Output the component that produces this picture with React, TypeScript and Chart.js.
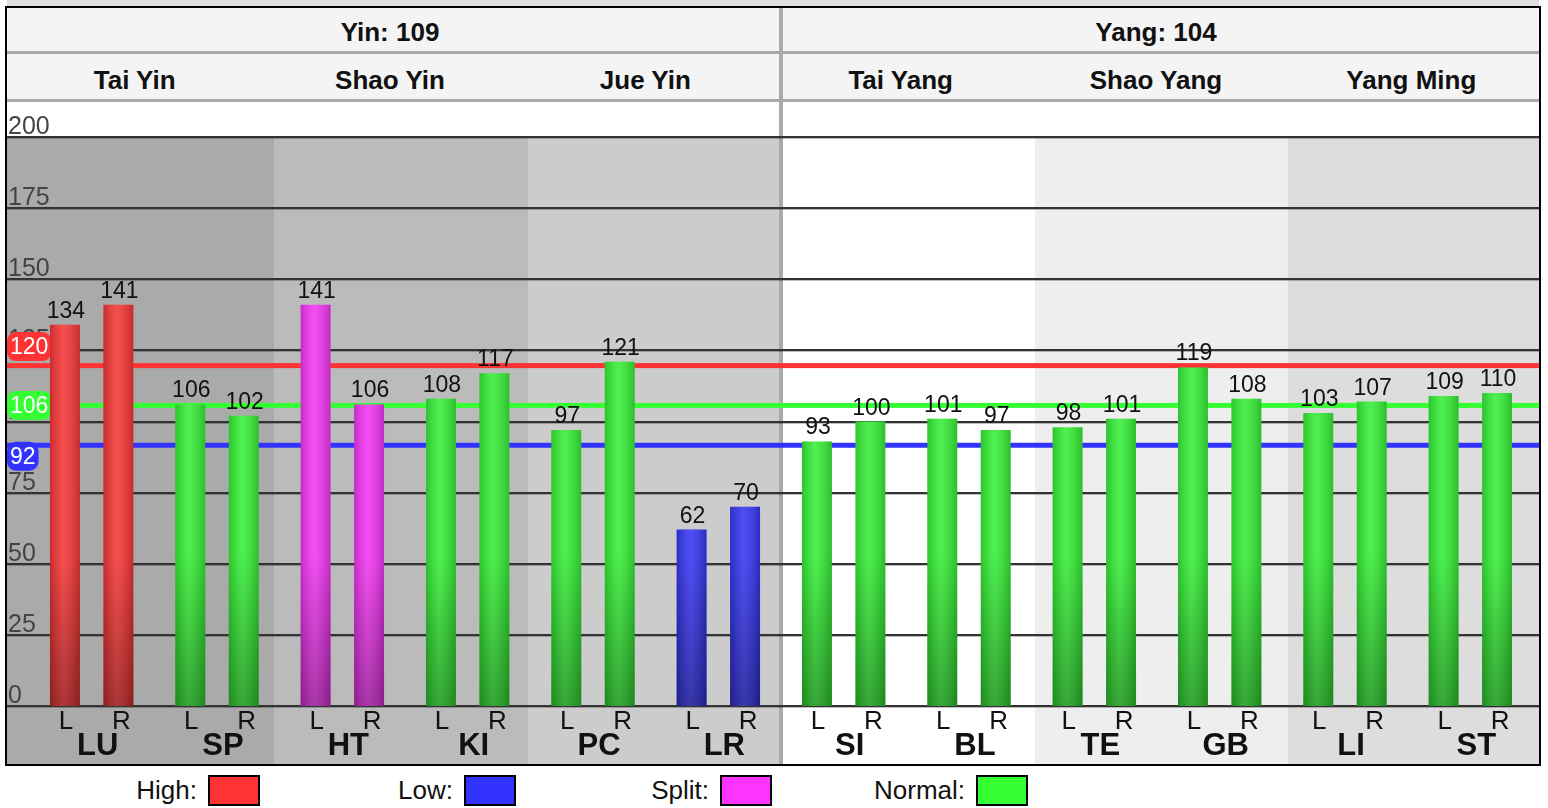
import React, { useEffect, useRef } from 'react';
import { Chart, registerables } from 'chart.js';

Chart.register(...registerables);

// ---------- data ----------
const organs = ['LU', 'SP', 'HT', 'KI', 'PC', 'LR', 'SI', 'BL', 'TE', 'GB', 'LI', 'ST'];
const leftValues = [134, 106, 141, 108, 97, 62, 93, 101, 98, 119, 103, 109];
const rightValues = [141, 102, 106, 117, 121, 70, 100, 97, 101, 108, 107, 110];
const leftStatus = ['high', 'normal', 'split', 'normal', 'normal', 'low', 'normal', 'normal', 'normal', 'normal', 'normal', 'normal'];
const rightStatus = ['high', 'normal', 'split', 'normal', 'normal', 'low', 'normal', 'normal', 'normal', 'normal', 'normal', 'normal'];
const sideLabels = ['L', 'R'];
const yMin = 0;
const yMax = 200;
const yStep = 25;
const refValues = [120, 106, 92];
const refKinds = ['high', 'normal', 'low'];
const halfTitles = ['Yin: 109', 'Yang: 104'];
const channelTitles = ['Tai Yin', 'Shao Yin', 'Jue Yin', 'Tai Yang', 'Shao Yang', 'Yang Ming'];
const legendLabels = ['High:', 'Low:', 'Split:', 'Normal:'];
const legendKinds = ['high', 'low', 'split', 'normal'];

// ---------- styles ----------
const FONT = '"Liberation Sans", Arial, Helvetica, sans-serif';
const kindColors: Record<string, string> = {
  high: '#ff3333',
  low: '#3333ff',
  split: '#ff33ff',
  normal: '#33ff33',
};
const barColors: Record<string, string> = {
  high: '#f53636',
  low: '#3636f2',
  split: '#f236f2',
  normal: '#36ee36',
};
const badgeOffsets = [-19, 0, 11];
const columnEdges = [
  [7, 274],
  [274, 528],
  [528, 779],
  [783, 1035],
  [1035, 1288],
  [1288, 1539],
];
const columnBgs = ['#aaaaaa', '#bbbbbb', '#cccccc', '#ffffff', '#eeeeee', '#dddddd'];

const CANVAS_LEFT = 7;
const CANVAS_TOP = 102;
const CANVAS_W = 1532;
const CANVAS_H = 662;

const decorPlugin = {
  id: 'decor',
  beforeDatasetsDraw(chart: any) {
    const ctx = chart.ctx as CanvasRenderingContext2D;
    const y = chart.scales.y;
    const W = chart.width;
    ctx.save();
    const ticks = (y.ticks || []) as { value: number }[];
    ticks.forEach((t) => {
      const py = Math.round(y.getPixelForValue(t.value));
      ctx.fillStyle = '#333333';
      ctx.fillRect(0, py - 1, W, 2);
      ctx.fillStyle = 'rgba(0,0,0,0.25)';
      ctx.fillRect(0, py + 1, W, 1);
    });
    ctx.font = `25px ${FONT}`;
    ctx.fillStyle = '#444444';
    ctx.textAlign = 'left';
    ctx.textBaseline = 'alphabetic';
    ticks.forEach((t) => {
      const py = Math.round(y.getPixelForValue(t.value));
      ctx.fillText(String(t.value), 1, py - 3);
    });
    // reference lines
    refValues.forEach((v, i) => {
      const py = y.getPixelForValue(v) + 1;
      ctx.fillStyle = kindColors[refKinds[i]];
      ctx.fillRect(0, py - 2.5, W, 5);
    });
    // badges
    ctx.font = `23px ${FONT}`;
    refValues.forEach((v, i) => {
      const py = y.getPixelForValue(v) + 1 + badgeOffsets[i];
      const txt = String(v);
      const tw = ctx.measureText(txt).width;
      const bw = tw + 6;
      const bh = 29;
      ctx.fillStyle = kindColors[refKinds[i]];
      ctx.beginPath();
      (ctx as any).roundRect(0, py - bh / 2, bw, bh, 9);
      ctx.fill();
      ctx.fillStyle = '#ffffff';
      ctx.textAlign = 'center';
      ctx.textBaseline = 'middle';
      ctx.fillText(txt, bw / 2, py + 1);
    });
    ctx.restore();
  },
  afterDatasetsDraw(chart: any) {
    const ctx = chart.ctx as CanvasRenderingContext2D;
    const xs = chart.scales.x;
    ctx.save();
    chart.data.datasets.forEach((ds: any, di: number) => {
      const meta = chart.getDatasetMeta(di);
      meta.data.forEach((el: any, i: number) => {
        const p = el.getProps(['x', 'y', 'base', 'width'], true);
        const left = p.x - p.width / 2;
        const top = Math.min(p.y, p.base);
        const h = Math.abs(p.base - p.y);
        const g = ctx.createLinearGradient(left, 0, left + p.width, 0);
        g.addColorStop(0, 'rgba(0,0,0,0.18)');
        g.addColorStop(0.45, 'rgba(255,255,255,0.12)');
        g.addColorStop(1, 'rgba(0,0,0,0.2)');
        ctx.fillStyle = g;
        ctx.fillRect(left, top, p.width, h);
        const v = ctx.createLinearGradient(0, p.base, 0, p.base - 150);
        v.addColorStop(0, 'rgba(0,0,0,0.3)');
        v.addColorStop(1, 'rgba(0,0,0,0)');
        ctx.fillStyle = v;
        ctx.fillRect(left, top, p.width, h);
        // value label
        ctx.font = `23px ${FONT}`;
        ctx.fillStyle = '#111111';
        ctx.textAlign = 'center';
        ctx.textBaseline = 'alphabetic';
        ctx.fillText(String(ds.data[i]), p.x + 1, top - 7);
        // side label
        ctx.font = `26px ${FONT}`;
        ctx.fillText(sideLabels[di], p.x + (di === 1 ? 3 : 1), 627);
      });
    });
    ctx.font = `bold 31px ${FONT}`;
    ctx.fillStyle = '#111111';
    ctx.textAlign = 'center';
    organs.forEach((o, i) => {
      ctx.fillText(o, xs.getPixelForValue(i) + 6, 653);
    });
    ctx.restore();
  },
};

function ChartCanvas() {
  const ref = useRef<HTMLCanvasElement | null>(null);
  useEffect(() => {
    if (!ref.current) return;
    const chart = new Chart(ref.current, {
      type: 'bar',
      data: {
        labels: organs,
        datasets: [
          {
            label: 'L',
            data: leftValues,
            backgroundColor: leftStatus.map((s) => barColors[s]),
            borderWidth: 0,
            categoryPercentage: 0.853,
            barPercentage: 0.56,
          },
          {
            label: 'R',
            data: rightValues,
            backgroundColor: rightStatus.map((s) => barColors[s]),
            borderWidth: 0,
            categoryPercentage: 0.853,
            barPercentage: 0.56,
          },
        ],
      },
      options: {
        responsive: false,
        animation: false,
        events: [],
        layout: { padding: { left: 22, right: 6, top: 35, bottom: 58 } },
        scales: {
          x: { display: false },
          y: { display: false, min: yMin, max: yMax, ticks: { stepSize: yStep } },
        },
        plugins: { legend: { display: false }, tooltip: { enabled: false } },
      },
      plugins: [decorPlugin],
    } as any);
    return () => chart.destroy();
  }, []);
  return (
    <canvas
      ref={ref}
      width={CANVAS_W}
      height={CANVAS_H}
      style={{ position: 'absolute', left: CANVAS_LEFT, top: CANVAS_TOP, width: CANVAS_W, height: CANVAS_H }}
    />
  );
}

export default function App() {
  const headerCell = (text: string, left: number, width: number, top: number, height: number, key: string) => (
    <div
      key={key}
      style={{
        position: 'absolute',
        left,
        top,
        width,
        height,
        display: 'flex',
        alignItems: 'center',
        justifyContent: 'center',
        fontWeight: 'bold',
        fontSize: 26,
        color: '#111',
      }}
    >
      {text}
    </div>
  );
  const innerW = 1532;
  return (
    <div style={{ position: 'absolute', left: 0, top: 0, width: 1548, height: 808, background: '#fff', fontFamily: FONT, overflow: 'hidden' }}>
      {/* top strip */}
      <div style={{ position: 'absolute', left: 7, top: 0, width: innerW, height: 6, background: '#e0e0e0' }} />
      {/* header rows */}
      <div style={{ position: 'absolute', left: 7, top: 8, width: innerW, height: 43, background: '#f4f4f4' }} />
      <div style={{ position: 'absolute', left: 7, top: 51, width: innerW, height: 3, background: '#a8a8a8' }} />
      <div style={{ position: 'absolute', left: 7, top: 54, width: innerW, height: 45, background: '#f4f4f4' }} />
      <div style={{ position: 'absolute', left: 7, top: 99, width: innerW, height: 3, background: '#a8a8a8' }} />
      {halfTitles.map((t, i) => headerCell(t, 7 + (i * innerW) / 2, innerW / 2, 10, 44, 'h' + i))}
      {channelTitles.map((t, i) => headerCell(t, 7 + (i * innerW) / 6, innerW / 6, 57, 46, 'c' + i))}
      {/* column backgrounds */}
      {columnEdges.map((e, i) => (
        <div key={'bg' + i} style={{ position: 'absolute', left: e[0], top: 137, width: e[1] - e[0], height: 764 - 137, background: columnBgs[i] }} />
      ))}
      {/* vertical separator */}
      <div style={{ position: 'absolute', left: 779, top: 8, width: 4, height: 756, background: '#aaaaaa' }} />
      <ChartCanvas />
      {/* frame */}
      <div style={{ position: 'absolute', left: 5, top: 6, width: 1536, height: 760, border: '2px solid #000', boxSizing: 'border-box', pointerEvents: 'none' }} />
      {/* legend */}
      {legendLabels.map((l, i) => (
        <div
          key={'lg' + i}
          style={{
            position: 'absolute',
            left: 4 + i * 256,
            top: 774,
            width: 256,
            height: 32,
            display: 'flex',
            alignItems: 'center',
            justifyContent: 'flex-end',
            fontSize: 26,
            color: '#111',
          }}
        >
          <span style={{ marginRight: 11 }}>{l}</span>
          <span style={{ display: 'inline-block', width: 52, height: 31, boxSizing: 'border-box', border: '2px solid #000', background: kindColors[legendKinds[i]] }} />
        </div>
      ))}
    </div>
  );
}
